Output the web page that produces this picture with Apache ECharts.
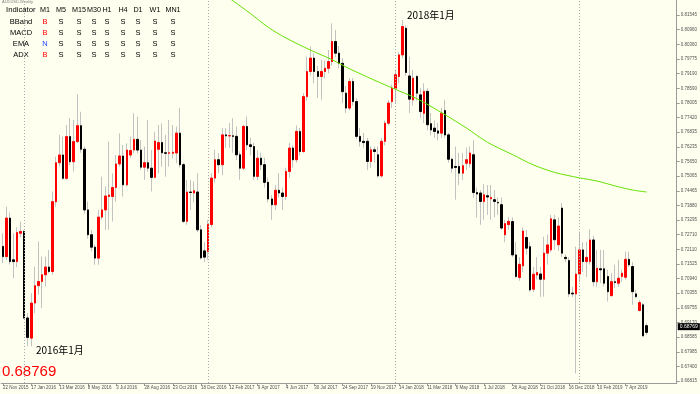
<!DOCTYPE html>
<html><head><meta charset="utf-8">
<script src="https://cdn.jsdelivr.net/npm/echarts@6/dist/echarts.min.js"></script>
<style>html,body{margin:0;padding:0;background:#FFFFF0}#c{width:700px;height:394px}</style>
</head><body><div id="c"></div>
<script>
// Weekly AUDUSD candles, week of 22 Nov 2015 onward (index = week number)
const opens=[.7223,.7182,.7337,.7169,.7162,.7276,.7283,.6935,.6854,.6995,.7065,.7082,.7109,.7140,.7122,.7403,.7560,.7591,.7497,.7665,.7564,.7645,.7709,.7614,.7370,.7270,.7220,.7176,.7341,.7370,.7424,.7424,.7460,.7555,.7587,.7471,.7591,.7611,.7654,.7611,.7542,.7560,.7538,.7501,.7614,.7641,.7600,.7598,.7598,
.7599,.7679,.7552,.7324,.7442,.7438,.7442,.7290,.7205,.7203,.7311,.7498,.7572,.7552,.7672,.7668,.7668,.7666,.7592,.7538,.7706,.7632,.7625,.7505,.7578,.7552,.7481,.7414,.7391,.7449,.7438,.7424,.7525,.7619,.7572,.7686,.7605,.7826,.7927,.7981,.7927,.7907,.7927,.7940,.7967,.8048,.8001,.7960,
.7840,.7780,.7887,.7806,.7666,.7646,.7646,.7565,.7612,.7592,.7507,.7646,.7719,.7806,.7860,.7907,.7994,.8101,.7909,.7813,.7907,.7833,.7759,.7847,.7717,.7699,.7688,.7679,.7770,.7672,.7574,.7545,.7545,.7518,.7558,.7556,.7592,.7440,.7438,.7404,.7427,.7415,.7411,.7400,.7391,.7270,.7311,.7323,
.7189,.7098,.7145,.7259,.7222,.7051,.7108,.7112,.7091,.7196,.7209,.7330,.7230,.7377,.7179,.7166,.7035,.7032,.7112,.7209,.7162,.7162,.7249,.7081,.7133,.7133,.7102,.7025,.7081,.7075,.7102,.7099,.7171,.7142,.7032,.6965,.6988,.6904];
const highs=[.7276,.7383,.7360,.7276,.7300,.7323,.7290,.6955,.7035,.7142,.7243,.7182,.7182,.7209,.7444,.7584,.7672,.7665,.7712,.7739,.7732,.7835,.7765,.7625,.7403,.7290,.7230,.7370,.7504,.7464,.7645,.7517,.7591,.7678,.7631,.7638,.7665,.7759,.7745,.7651,.7625,.7732,.7611,.7685,.7712,.7718,.7672,.7732,.7712,
.7706,.7780,.7560,.7491,.7491,.7485,.7518,.7310,.7240,.7330,.7518,.7612,.7599,.7699,.7699,.7720,.7739,.7706,.7605,.7713,.7746,.7660,.7640,.7610,.7600,.7580,.7500,.7430,.7470,.7518,.7460,.7540,.7640,.7630,.7710,.7700,.7840,.7987,.8028,.8000,.7950,.7974,.7970,.8014,.8121,.8094,.8030,.7980,
.7870,.7900,.7900,.7820,.7700,.7680,.7660,.7625,.7625,.7625,.7660,.7730,.7813,.7875,.7935,.8005,.8135,.8112,.7987,.7934,.7914,.7860,.7880,.7860,.7760,.7730,.7720,.7780,.7813,.7680,.7580,.7625,.7600,.7600,.7620,.7625,.7650,.7460,.7450,.7475,.7470,.7470,.7450,.7420,.7420,.7330,.7340,.7340,
.7240,.7180,.7300,.7290,.7240,.7140,.7180,.7140,.7262,.7270,.7350,.7350,.7340,.7398,.7190,.7180,.7060,.7222,.7283,.7240,.7242,.7292,.7265,.7209,.7209,.7209,.7129,.7115,.7149,.7169,.7130,.7202,.7202,.7160,.7048,.7008,.6995,.6914];
const lows=[.7156,.7169,.7150,.7095,.7140,.7260,.6930,.6821,.6821,.6955,.7028,.6975,.7062,.7115,.7109,.7383,.7544,.7491,.7491,.7550,.7524,.7638,.7600,.7355,.7255,.7203,.7149,.7149,.7330,.7290,.7290,.7323,.7403,.7544,.7424,.7464,.7578,.7598,.7598,.7531,.7491,.7524,.7444,.7497,.7517,.7544,.7504,.7544,.7578,
.7558,.7540,.7317,.7310,.7370,.7400,.7280,.7170,.7160,.7170,.7300,.7480,.7518,.7510,.7620,.7620,.7600,.7570,.7491,.7530,.7610,.7590,.7490,.7490,.7530,.7460,.7400,.7330,.7370,.7420,.7370,.7410,.7500,.7540,.7560,.7590,.7600,.7810,.7910,.7880,.7820,.7813,.7900,.7920,.7950,.7985,.7940,.7800,
.7760,.7770,.7790,.7655,.7625,.7620,.7530,.7540,.7560,.7500,.7500,.7630,.7710,.7780,.7800,.7880,.7980,.7910,.7760,.7790,.7810,.7740,.7720,.7690,.7670,.7660,.7650,.7660,.7660,.7560,.7520,.7411,.7470,.7490,.7530,.7540,.7420,.7340,.7310,.7330,.7350,.7330,.7340,.7350,.7290,.7240,.7290,.7180,
.7095,.7085,.7120,.7190,.7040,.7040,.7090,.7020,.7021,.7150,.7200,.7210,.7205,.7180,.7160,.7020,.7020,.6712,.7080,.7120,.7100,.7150,.7062,.7060,.7075,.7062,.7001,.7021,.7055,.7060,.7080,.7090,.7140,.6988,.7015,.6961,.6861,.6867];
const closes=[.7182,.7337,.7162,.7162,.7279,.7283,.6935,.6857,.6995,.7065,.7082,.7109,.7140,.7122,.7403,.7560,.7591,.7497,.7665,.7564,.7645,.7709,.7614,.7370,.7270,.7220,.7176,.7341,.7370,.7426,.7430,.7460,.7555,.7587,.7471,.7611,.7609,.7654,.7611,.7542,.7560,.7538,.7501,.7647,.7641,.7600,.7598,.7600,.7602,
.7679,.7552,.7324,.7442,.7440,.7447,.7290,.7177,.7180,.7311,.7498,.7572,.7552,.7672,.7668,.7669,.7666,.7592,.7538,.7706,.7632,.7625,.7505,.7578,.7552,.7481,.7414,.7391,.7449,.7438,.7424,.7525,.7619,.7572,.7686,.7605,.7826,.7927,.7981,.7927,.7907,.7927,.7940,.7967,.8048,.8001,.7960,.7846,
.7780,.7887,.7806,.7666,.7646,.7641,.7565,.7612,.7605,.7507,.7646,.7719,.7800,.7860,.7914,.7994,.8108,.7923,.7816,.7900,.7840,.7766,.7847,.7713,.7692,.7686,.7679,.7759,.7672,.7574,.7538,.7541,.7518,.7548,.7572,.7599,.7440,.7434,.7404,.7431,.7422,.7420,.7404,.7398,.7297,.7315,.7324,.7189,
.7102,.7151,.7285,.7216,.7048,.7111,.7118,.7091,.7196,.7229,.7334,.7250,.7305,.7196,.7174,.7032,.7032,.7112,.7209,.7162,.7179,.7249,.7081,.7135,.7129,.7075,.7041,.7081,.7078,.7095,.7115,.7171,.7149,.7041,.7021,.6997,.6863,.6877];
// EMA line points: [week index, value]
const emaPoints=[[62,.8240],[65,.8212],[70,.8160],[75,.8105],[80,.8062],[87,.8013],[93,.7975],[97,.7945],[103,.7905],[110,.7861],[117,.7818],[125,.7753],[131,.7700],[137,.7642],[144,.7593],[150,.7551],[156,.7521],[163,.7499],[168,.7486],[174,.7463],[178,.7450],[182,.7442]];
const totalSlots=191;
const tickEvery=8;
const tickLabels=['22 Nov 2015','17 Jan 2016','13 Mar 2016','8 May 2016','3 Jul 2016','28 Aug 2016','23 Oct 2016','18 Dec 2016','12 Feb 2017','9 Apr 2017','4 Jun 2017','30 Jul 2017','24 Sep 2017','19 Nov 2017','14 Jan 2018','11 Mar 2018','6 May 2018','1 Jul 2018','26 Aug 2018','21 Oct 2018','16 Dec 2018','10 Feb 2019','7 Apr 2019'];
const priceTicks=[0.81545,0.80960,0.80360,0.79775,0.79190,0.78590,0.78005,0.77420,0.76835,0.76235,0.75650,0.75065,0.74465,0.73880,0.73295,0.72710,0.72110,0.71525,0.70940,0.70355,0.69755,0.69170,0.68585,0.67985,0.67400,0.66815];
const yearStartIdx=[6,58,111,163];
const currentPrice=0.68769;
const indicators=['BBand','MACD','EMA','ADX'];
const timeframes=['M1','M5','M15','M30','H1','H4','D1','W1','MN1'];
const signals=[['B','S','S','S','S','S','S','S','S'],['B','S','S','S','S','S','S','S','S'],['N','S','S','S','S','S','S','S','S'],['B','S','S','S','S','S','S','S','S']];

const categories=[];for(let i=0;i<totalSlots;i++)categories.push(String(i));
const full=opens.map((o,i)=>[o,closes[i],lows[i],highs[i]]);
const bodies=opens.map((o,i)=>[o,closes[i],Math.min(o,closes[i]),Math.max(o,closes[i])]);

const chart=echarts.init(document.getElementById('c'),null,{renderer:'canvas'});
const colX=[45,61,79,94,107,123,138,155,173];
const rowY=[22,33,44,55];
const F='Liberation Sans';
const g=[];
g.push({type:'text',x:2,y:0,style:{text:'AUDUSD,Weekly',fontSize:4,fill:'#808080',fontFamily:F}});
g.push({type:'text',x:6,y:10,style:{text:'Indicator',fontSize:7.7,fill:'#000',fontFamily:F,verticalAlign:'middle'}});
timeframes.forEach((t,j)=>g.push({type:'text',x:colX[j],y:10,style:{text:t,fontSize:7.2,fill:'#000',fontFamily:F,align:'center',verticalAlign:'middle'}}));
indicators.forEach((n,r)=>{
  g.push({type:'text',x:21,y:rowY[r],style:{text:n,fontSize:7.5,fill:'#000',fontFamily:F,align:'center',verticalAlign:'middle'}});
  signals[r].forEach((s,j)=>g.push({type:'text',x:colX[j],y:rowY[r],style:{text:s,fontSize:7.5,fill:s==='B'?'#FF0000':(s==='N'?'#1E46FF':'#000'),fontFamily:F,align:'center',verticalAlign:'middle'}}));
});
g.push({type:'text',x:36,y:350,style:{text:'2016年1月',fontSize:10,fill:'#000',fontFamily:'Noto Sans CJK JP',verticalAlign:'middle'}});
g.push({type:'text',x:407,y:15,style:{text:'2018年1月',fontSize:10,fill:'#000',fontFamily:'Noto Sans CJK JP',verticalAlign:'middle'}});
g.push({type:'text',x:2,y:372,style:{text:currentPrice.toFixed(5),fontSize:15,fill:'#FF0000',fontFamily:F,verticalAlign:'middle'}});

chart.setOption({
  animation:false,
  backgroundColor:'#FFFFF0',
  grid:{left:0,right:21,top:0,bottom:11,containLabel:false},
  xAxis:{type:'category',data:categories,boundaryGap:true,
    axisLine:{show:true,lineStyle:{color:'#9a9a9a',width:1}},
    axisTick:{show:true,interval:(i)=>i%tickEvery===0,alignWithLabel:true,length:3,lineStyle:{color:'#9a9a9a'}},
    axisLabel:{show:true,interval:(i)=>i%tickEvery===0,formatter:(v)=>{const n=Number(v);const k=Math.round(n/tickEvery);return (n%tickEvery===0&&k<tickLabels.length)?tickLabels[k]:'';},
      fontSize:4.5,color:'#505050',fontFamily:F,align:'left',margin:2,showMinLabel:true,showMaxLabel:false},
    splitLine:{show:false}},
  yAxis:{type:'value',position:'right',min:0.66733,max:0.82149,scale:true,
    axisLine:{show:true,lineStyle:{color:'#9a9a9a',width:1}},
    axisTick:{show:true,customValues:priceTicks,length:3,lineStyle:{color:'#9a9a9a'}},
    axisLabel:{show:true,customValues:priceTicks,formatter:(v)=>Number(v).toFixed(5),fontSize:4.5,color:'#505050',fontFamily:F,margin:4},
    splitLine:{show:false}},
  graphic:g,
  series:[
    {type:'candlestick',name:'wicks',data:full,barWidth:2,z:2,
      itemStyle:{color:'rgba(0,0,0,0)',color0:'rgba(0,0,0,0)',borderColor:'#C2C2C2',borderColor0:'#C2C2C2',borderColorDoji:'#C2C2C2',borderWidth:1},
      markLine:{silent:true,symbol:['none','none'],label:{show:false},lineStyle:{color:'#a8a8a8',type:[1,2],width:1},
        data:yearStartIdx.map(i=>({xAxis:i}))}},
    {type:'candlestick',name:'bodies',data:bodies,barWidth:2,z:3,
      itemStyle:{color:'#FF0000',color0:'#000000',borderColor:'#FF0000',borderColor0:'#000000',borderColorDoji:'#000000',borderWidth:1},
      markLine:{silent:true,symbol:['none','none'],lineStyle:{color:'rgba(0,0,0,0)',width:1},
        label:{show:true,position:'end',distance:1,formatter:currentPrice.toFixed(5),backgroundColor:'#000',color:'#fff',fontSize:5,padding:[1,2],fontFamily:F},
        data:[{yAxis:currentPrice}]}},
    {type:'line',name:'EMA',data:emaPoints,showSymbol:false,smooth:0.3,z:4,clip:true,
      lineStyle:{color:'#66E000',width:1}}
  ]
});
</script></body></html>
